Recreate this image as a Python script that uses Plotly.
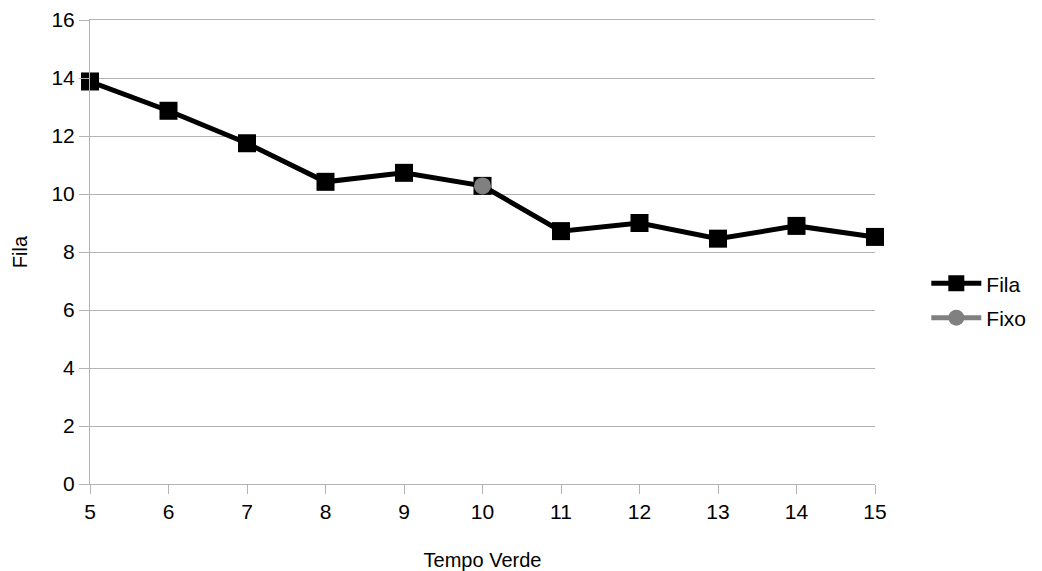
import plotly.graph_objects as go

tempo = [5, 6, 7, 8, 9, 10, 11, 12, 13, 14, 15]
fila = [13.88, 12.87, 11.75, 10.42, 10.73, 10.28, 8.72, 9.0, 8.46, 8.9, 8.52]
fixo_x = [10]
fixo_y = [10.28]

fig = go.Figure()
fig.add_trace(go.Scatter(x=tempo, y=fila, name="Fila", mode="lines+markers",
                         legendgroup="a", cliponaxis=False,
                         line=dict(color="black", width=5),
                         marker=dict(symbol="square", size=18, color="black")))
fig.add_trace(go.Scatter(x=fixo_x, y=fixo_y, name="Fixo", mode="lines+markers",
                         legendgroup="b", cliponaxis=False,
                         line=dict(color="#808080", width=5),
                         marker=dict(symbol="circle", size=17, color="#808080")))

fig.update_layout(
    width=1042, height=571,
    margin=dict(l=90, r=166, t=20, b=87),
    paper_bgcolor="white", plot_bgcolor="white",
    font=dict(family="Liberation Sans, Arial, sans-serif", size=21, color="black"),
    showlegend=True,
    legend=dict(x=1.064, y=0.395, xanchor="left", yanchor="middle",
                font=dict(size=21), tracegroupgap=4, itemwidth=50),
    xaxis=dict(range=[5, 15], tickmode="array", tickvals=tempo,
               showgrid=False, showline=True, linecolor="#b3b3b3", linewidth=1,
               mirror=True, ticks="outside", ticklen=9, tickcolor="#b3b3b3",
               tickfont=dict(size=21), automargin=False,
               title=dict(text="Tempo Verde", font=dict(size=20), standoff=30),
               zeroline=False),
    yaxis=dict(range=[0, 16], dtick=2, showgrid=True, gridcolor="#b3b3b3",
               showline=True, linecolor="#b3b3b3", linewidth=1,
               ticks="outside", ticklen=10, tickcolor="#b3b3b3",
               tickfont=dict(size=21), automargin=False,
               title=dict(text="Fila", font=dict(size=20), standoff=18),
               zeroline=False),
)

fig.write_html("out.html")
